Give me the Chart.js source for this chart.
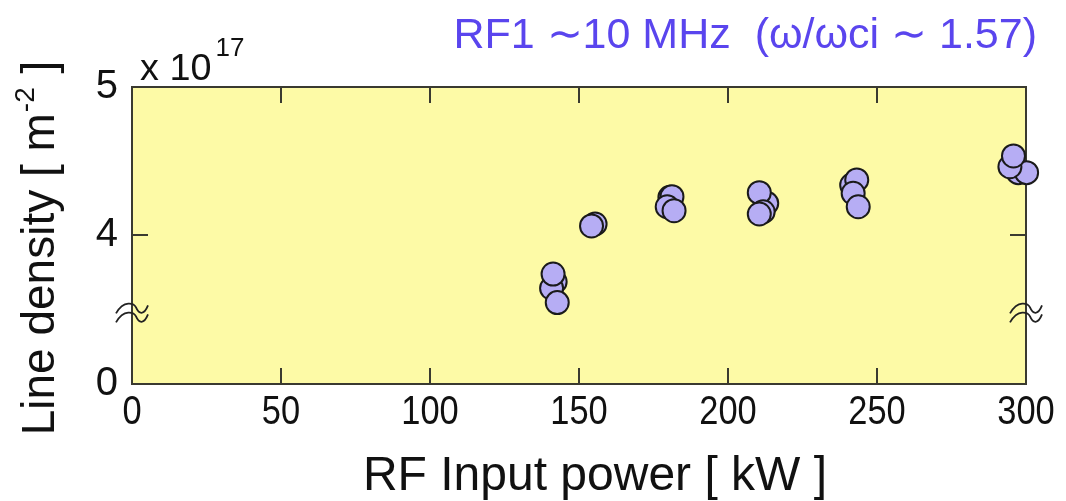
<!DOCTYPE html>
<html>
<head>
<meta charset="utf-8">
<script src="https://cdn.jsdelivr.net/npm/chart.js@4"></script>
<style>
  html, body { margin: 0; background: #fff; }
</style>
</head>
<body>
<canvas id="chart" width="1066" height="501"></canvas>
<script>
// RF input power [kW] and line density [x10^17 m^-2]
var powerKW = [142.0, 140.8, 141.3, 142.7,
               155.4, 154.2,
               180.5, 181.2, 179.6, 181.9,
               213.0, 210.5, 211.8, 210.5,
               241.5, 243.2, 242.0, 243.7,
               297.4, 300.2, 294.6, 295.8];
var density = [3.684, 3.640, 3.736, 3.543,
               4.074, 4.061,
               4.255, 4.259, 4.191, 4.164,
               4.214, 4.286, 4.157, 4.142,
               4.338, 4.372, 4.282, 4.191,
               4.421, 4.421, 4.461, 4.534];

var xTicks = [0, 50, 100, 150, 200, 250, 300];
// broken axis: the bottom of the axis stands for 0
var yBreakBase = 2.993;
var yTickValues = [yBreakBase, 4, 5];
var yTickLabels = ['0', '4', '5'];

var sans = '"Liberation Sans", Arial, sans-serif';

var points = [];
for (var i = 0; i < powerKW.length; i++) {
  points.push({ x: powerKW[i], y: density[i] });
}

function wave(ctx, x, y) {
  ctx.beginPath();
  ctx.moveTo(x - 16, y + 4);
  ctx.bezierCurveTo(x - 8, y - 10, x + 2, y - 6, x + 4, y - 2);
  ctx.bezierCurveTo(x + 7, y + 5, x + 12, y + 6, x + 16, y - 4);
  ctx.stroke();
}

// text squeezed horizontally, like the narrow face in the original
function narrowText(ctx, txt, x, y, sx, align) {
  ctx.save();
  ctx.translate(x, y);
  ctx.scale(sx, 1);
  ctx.textAlign = align;
  ctx.fillText(txt, 0, 0);
  ctx.restore();
}

var frame = {
  id: 'frame',
  beforeDraw: function (chart) {
    var a = chart.chartArea, ctx = chart.ctx;
    ctx.save();
    ctx.fillStyle = '#fdfaa6';
    ctx.fillRect(a.left, a.top, a.right - a.left, a.bottom - a.top);
    ctx.restore();
  },
  beforeDatasetsDraw: function (chart) {
    var a = chart.chartArea, ctx = chart.ctx;
    var xs = chart.scales.x, ys = chart.scales.y;
    ctx.save();
    ctx.strokeStyle = '#3a3a30';
    ctx.lineWidth = 2;
    ctx.strokeRect(a.left, a.top, a.right - a.left, a.bottom - a.top);
    xTicks.forEach(function (t) {
      if (t === xs.min || t === xs.max) return;
      var px = xs.getPixelForValue(t);
      ctx.beginPath();
      ctx.moveTo(px, a.bottom); ctx.lineTo(px, a.bottom - 16);
      ctx.moveTo(px, a.top); ctx.lineTo(px, a.top + 16);
      ctx.stroke();
    });
    var py = ys.getPixelForValue(4);
    ctx.beginPath();
    ctx.moveTo(a.left, py); ctx.lineTo(a.left + 16, py);
    ctx.moveTo(a.right, py); ctx.lineTo(a.right - 16, py);
    ctx.stroke();
    // axis break marks
    var pb = ys.getPixelForValue(3.47);
    ctx.lineWidth = 1.8;
    ctx.strokeStyle = '#222';
    [a.left, a.right].forEach(function (px) {
      wave(ctx, px, pb - 4);
      wave(ctx, px, pb + 5);
    });
    ctx.restore();
  },
  afterDraw: function (chart) {
    var ctx = chart.ctx, xs = chart.scales.x;
    ctx.save();
    ctx.textBaseline = 'alphabetic';
    ctx.fillStyle = '#111';
    // x tick labels
    ctx.font = '40px ' + sans;
    xTicks.forEach(function (t) {
      narrowText(ctx, String(t), xs.getPixelForValue(t), 424, 0.86, 'center');
    });
    // x title
    ctx.font = '48px ' + sans;
    narrowText(ctx, 'RF Input power [ kW ]', 595, 490, 1.0, 'center');
    // exponent
    ctx.textAlign = 'left';
    ctx.font = '36px ' + sans;
    narrowText(ctx, 'x 10', 140, 80, 1.05, 'left');
    var w = ctx.measureText('x 10').width * 1.05;
    ctx.font = '26px ' + sans;
    ctx.fillText('17', 140 + w + 4, 56);
    // title
    ctx.fillStyle = '#5a45ee';
    ctx.font = '43px ' + sans;
    narrowText(ctx, 'RF1 \u223C10 MHz  (\u03C9/\u03C9ci \u223C 1.57)', 1037, 48, 1.0, 'right');
    // y title
    ctx.fillStyle = '#111';
    ctx.translate(54, 248);
    ctx.rotate(-Math.PI / 2);
    var big = '46px ' + sans;
    var small = '28px ' + sans;
    var p1 = 'Line density [ m', p2 = '-2', p3 = ' ]';
    ctx.font = big; var w1 = ctx.measureText(p1).width, w3 = ctx.measureText(p3).width;
    ctx.font = small; var w2 = ctx.measureText(p2).width;
    var x0 = -(w1 + w2 + w3 + 2) / 2;
    ctx.textAlign = 'left';
    ctx.font = big; ctx.fillText(p1, x0, 0);
    ctx.font = small; ctx.fillText(p2, x0 + w1 + 1, -20);
    ctx.font = big; ctx.fillText(p3, x0 + w1 + w2 + 2, 0);
    ctx.restore();
  }
};

new Chart(document.getElementById('chart'), {
  type: 'scatter',
  data: {
    datasets: [{
      data: points,
      clip: false,
      pointRadius: 11.5,
      pointHoverRadius: 11.5,
      pointBackgroundColor: '#b6adf4',
      pointBorderColor: '#1a1a1a',
      pointBorderWidth: 2
    }]
  },
  options: {
    responsive: false,
    animation: false,
    layout: { padding: { left: 0, top: 87, right: 40, bottom: 0 } },
    plugins: { legend: { display: false }, tooltip: { enabled: false } },
    scales: {
      x: {
        type: 'linear', min: 0, max: 300,
        afterFit: function (s) { s.height = 117; },
        afterBuildTicks: function (s) { s.ticks = xTicks.map(function (v) { return { value: v }; }); },
        grid: { display: false },
        border: { display: false },
        ticks: { display: false }
      },
      y: {
        type: 'linear', min: yBreakBase, max: 5,
        afterFit: function (s) { s.width = 132; },
        afterBuildTicks: function (s) { s.ticks = yTickValues.map(function (v) { return { value: v }; }); },
        grid: { display: false },
        border: { display: false },
        ticks: {
          color: '#111', padding: 6, font: { family: sans, size: 40 },
          callback: function (v) { return yTickLabels[yTickValues.indexOf(v)]; }
        }
      }
    }
  },
  plugins: [frame]
});
</script>
</body>
</html>
